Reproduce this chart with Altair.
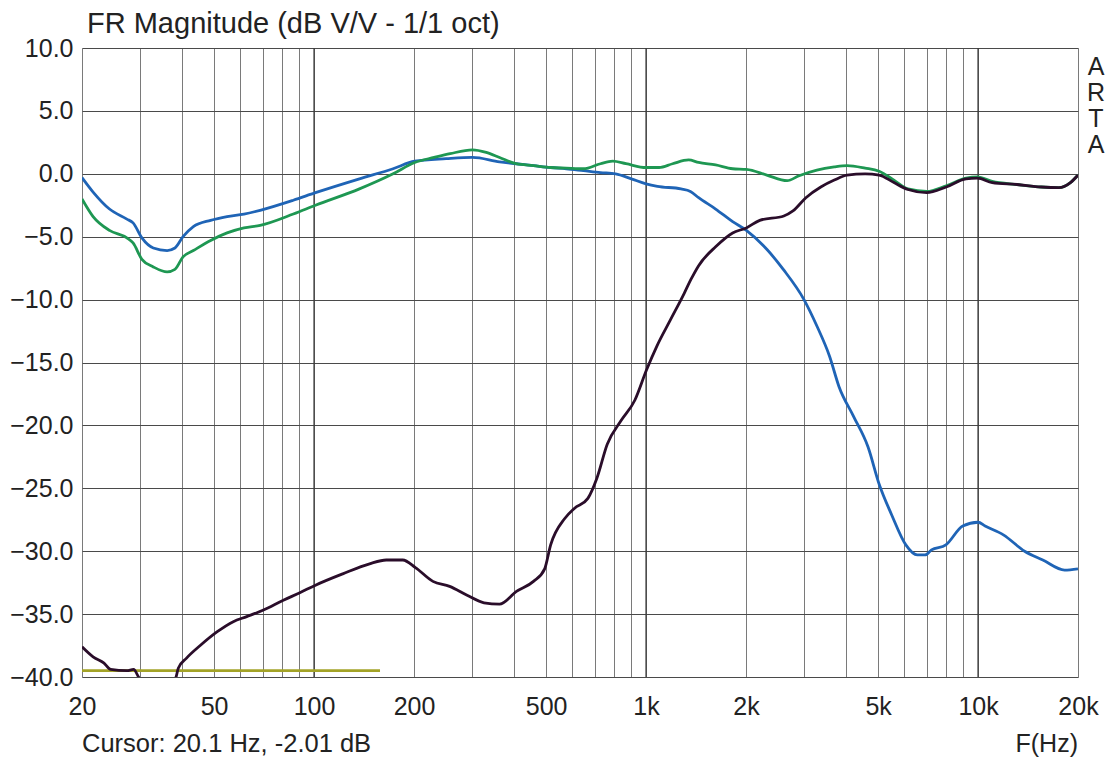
import altair as alt
import pandas as pd

# ---------------- data ----------------
blue_f = [20, 21.6, 24.2, 27.3, 28.5, 30.3, 32.8, 36.1, 38.1, 40.3, 43.3, 48.8, 54.7, 61.5,
          68.8, 86.6, 101, 137, 173, 201, 250, 300, 362, 406, 458, 516, 575, 648, 729, 810,
          903, 1000, 1082, 1274, 1360, 1440, 1620, 1823, 2005, 2310, 2590, 2990, 3270, 3570,
          3810, 4220, 4660, 5040, 5490, 6060, 6560, 6920, 7240, 8000, 8990, 10000, 10500,
          11920, 13810, 15670, 18220, 20000]
blue_db = [-0.3, -1.45, -2.8, -3.6, -3.9, -5.1, -5.9, -6.1, -5.9, -5.0, -4.2, -3.7, -3.4, -3.2,
           -2.9, -2.1, -1.5, -0.4, 0.4, 1.0, 1.2, 1.3, 0.95, 0.8, 0.65, 0.5, 0.4, 0.25, 0.1, 0.0,
           -0.4, -0.8, -1.0, -1.2, -1.4, -1.9, -2.8, -3.8, -4.5, -6.0, -7.6, -10.0, -12.1, -14.5,
           -16.9, -19.3, -21.7, -24.7, -27.1, -29.5, -30.3, -30.3, -29.9, -29.5, -28.0, -27.7, -28.0,
           -28.7, -30.0, -30.7, -31.5, -31.4]

green_f = [20, 21.6, 24.2, 27.3, 28.5, 30.3, 32.8, 36.1, 38.1, 40.3, 43.3, 48.8, 54.7, 61.5,
           68.8, 86.6, 101, 137, 173, 201, 230, 257, 300, 330, 362, 406, 458, 516, 575, 648,
           729, 793, 870, 1000, 1095, 1202, 1343, 1440, 1620, 1823, 2005, 2310, 2660, 2890,
           3270, 3690, 4030, 4570, 5036, 5580, 6150, 7000, 8020, 9200, 9950, 11030, 13100,
           15500, 17520, 18980, 20000]
green_db = [-2.0, -3.4, -4.5, -5.1, -5.5, -6.8, -7.4, -7.8, -7.6, -6.6, -6.1, -5.3, -4.7, -4.3,
            -4.1, -3.2, -2.5, -1.2, 0.0, 0.9, 1.3, 1.6, 1.9, 1.7, 1.3, 0.8, 0.65, 0.5, 0.45, 0.4,
            0.8, 1.0, 0.8, 0.5, 0.5, 0.8, 1.1, 0.9, 0.7, 0.4, 0.35, -0.1, -0.55, -0.15,
            0.3, 0.55, 0.65, 0.45, 0.2, -0.5, -1.2, -1.4, -0.95, -0.35, -0.25, -0.6, -0.85,
            -1.05, -1.1, -0.7, -0.1]

black_f = [20, 21.6, 23.3, 24.4, 27.3, 28.6, 29.6, 32, 35, 38.4, 39.0, 41.3, 45.4, 51.1, 57.1,
           62.7, 70.1, 80.8, 90.6, 101, 122, 147, 165, 185, 202, 228, 256, 289, 325, 362, 407,
           458, 495, 516, 569, 608, 668, 711, 764, 842, 925, 1003, 1078, 1185, 1303, 1365,
           1440, 1620, 1823, 2005, 2200, 2600, 2770, 3030, 3360, 3690, 4030, 4570, 5036, 5580,
           6150, 7000, 8020, 9200, 9950, 11030, 13100, 15500, 17520, 18980, 20000]
black_db = [-37.6, -38.4, -38.9, -39.4, -39.5, -39.4, -40.0, -41.5, -41.5, -40.0, -39.3, -38.5,
            -37.5, -36.4, -35.6, -35.2, -34.7, -33.9, -33.3, -32.7, -31.8, -31.0, -30.7, -30.7,
            -31.3, -32.4, -32.8, -33.5, -34.1, -34.2, -33.2, -32.4, -31.4, -29.5, -27.4, -26.6,
            -25.8, -24.2, -21.5, -19.6, -18.0, -15.6, -13.7, -11.6, -9.5, -8.4, -7.3, -5.8, -4.7,
            -4.3, -3.7, -3.35, -2.95, -1.9, -1.05, -0.5, -0.1, 0.0, -0.1, -0.7, -1.25, -1.5, -1.05,
            -0.4, -0.35, -0.7, -0.85, -1.05, -1.1, -0.7, -0.1]

olive_f = [20, 158]
olive_db = [-39.5, -39.5]

grid_f = [20, 30, 40, 50, 60, 70, 80, 90, 100, 200, 300, 400, 500, 600, 700, 800, 900,
          1000, 2000, 3000, 4000, 5000, 6000, 7000, 8000, 9000, 10000, 20000]
label_f = [20, 50, 100, 200, 500, 1000, 2000, 5000, 10000, 20000]
decade_f = [100, 1000, 10000]
y_ticks = [-40, -35, -30, -25, -20, -15, -10, -5, 0, 5, 10]

series_names = ["olive", "blue", "green", "black"]
series_colors = ["#a3a327", "#1f64b6", "#1e9752", "#2a0d2a"]

title_text = "FR Magnitude (dB V/V - 1/1 oct)"
cursor_text = "Cursor: 20.1 Hz, -2.01 dB"
xunit_text = "F(Hz)"
brand_text = "A\nR\nT\nA"

# ---------------- build table ----------------
rows = []
for name, fs, ds in [("olive", olive_f, olive_db), ("blue", blue_f, blue_db),
                     ("green", green_f, green_db), ("black", black_f, black_db)]:
    for i, (f, d) in enumerate(zip(fs, ds)):
        rows.append({"series": name, "f": f, "db": d, "i": i})
df = pd.DataFrame(rows)

W, H = 996, 629
FONT = "Liberation Sans"
FS = 25

x_scale = alt.Scale(type="log", domain=[20, 20000], nice=False)
y_scale = alt.Scale(domain=[-40, 10], nice=False, zero=False)

label_list = ",".join(str(v) for v in label_f)
x_axis = alt.Axis(
    values=grid_f, grid=True, gridColor="#7a7a7a", gridWidth=1, ticks=False, domain=False,
    labelExpr=f"indexof([{label_list}], datum.value) >= 0 ? (datum.value >= 1000 ? (datum.value/1000) + 'k' : datum.value + '') : ''",
    labelFont=FONT, labelFontSize=FS, labelColor="#222", labelPadding=17, labelOverlap=False,
    labelFlush=False, title=None,
)
y_axis = alt.Axis(
    values=y_ticks, format=".1f", grid=True, gridColor="#4a4a4a", gridWidth=1, ticks=False,
    domain=False, labelFont=FONT, labelFontSize=FS, labelColor="#222", labelPadding=9,
    title=None,
)

base = alt.Chart(df)

lines = base.mark_line(strokeWidth=2.8, clip=True, interpolate="monotone").encode(
    x=alt.X("f:Q", scale=x_scale, axis=x_axis),
    y=alt.Y("db:Q", scale=y_scale, axis=y_axis),
    color=alt.Color("series:N", scale=alt.Scale(domain=series_names, range=series_colors), legend=None),
    detail="series:N",
    order="i:Q",
)

decades = alt.Chart(pd.DataFrame({"f": decade_f})).mark_rule(color="#3a3a3a", strokeWidth=1.3).encode(
    x=alt.X("f:Q", scale=x_scale)
)

cursor = alt.Chart(pd.DataFrame({"t": [cursor_text]})).mark_text(
    align="left", baseline="middle", font=FONT, fontSize=25.5, color="#222"
).encode(text="t:N", x=alt.value(0), y=alt.value(H + 67))

xunit = alt.Chart(pd.DataFrame({"t": [xunit_text]})).mark_text(
    align="right", baseline="middle", font=FONT, fontSize=FS, color="#222"
).encode(text="t:N", x=alt.value(996), y=alt.value(H + 67))

brand = alt.Chart(pd.DataFrame({"t": [brand_text]})).mark_text(
    align="center", baseline="top", font=FONT, fontSize=FS, color="#222",
    lineBreak="\n", lineHeight=26
).encode(text="t:N", x=alt.value(1014), y=alt.value(7))

chart = alt.layer(decades, lines, cursor, xunit, brand).properties(
    width=W, height=H,
    title=alt.TitleParams(title_text, anchor="start", frame="group", font=FONT, fontSize=29,
                          fontWeight="normal", color="#222", offset=6, dx=5, dy=9),
    autosize=alt.AutoSizeParams(type="none"),
    padding={"left": 82, "top": 48, "right": 35, "bottom": 83},
).configure_view(stroke="black", strokeWidth=1.5).configure(background="white")

chart.save("out.html", embed_options={"renderer": "svg", "actions": False})
